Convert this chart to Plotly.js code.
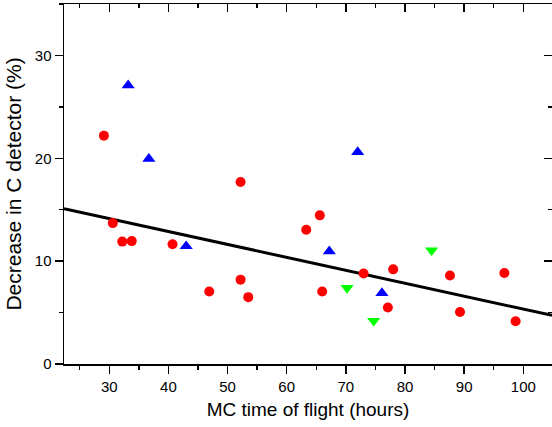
<!DOCTYPE html>
<html>
<head>
<meta charset="utf-8">
<script src="https://cdn.plot.ly/plotly-3.0.1.min.js"></script>
<style>html,body{margin:0;padding:0;background:#fff;}#chart{width:552px;height:427px;}</style>
</head>
<body>
<div id="chart"></div>
<script>
// Red circles
var redX = [29.1, 30.6, 32.2, 33.8, 40.7, 46.9, 52.2, 52.2, 53.5, 63.3, 65.6, 66.0, 73.0, 77.1, 78.0, 87.6, 89.3, 96.8, 98.7];
var redY = [22.2, 13.7, 11.9, 11.95, 11.65, 7.05, 17.7, 8.2, 6.5, 13.05, 14.45, 7.05, 8.8, 5.5, 9.2, 8.6, 5.05, 8.85, 4.15];
// Blue up-triangles
var blueX = [33.2, 36.7, 43.0, 67.2, 72.0, 76.1];
var blueY = [27.1, 19.95, 11.45, 10.95, 20.6, 6.9];
// Green down-triangles
var greenX = [70.2, 74.7, 84.5];
var greenY = [7.4, 4.2, 11.05];
// Linear fit line
var fitX = [22.35, 104.85];
var fitY = [15.1, 4.73];

var xRange = [22.35, 104.85];
var yRange = [0, 35];
var fontFam = 'Liberation Sans, Arial, sans-serif';

var traces = [
  {x: fitX, y: fitY, mode: 'lines', line: {color: '#000', width: 3}, hoverinfo: 'skip'},
  {x: redX, y: redY, mode: 'markers', marker: {symbol: 'circle', size: 10, color: '#ff0000'}},
  {x: blueX, y: blueY, mode: 'markers', marker: {symbol: 'triangle-up', size: 11.5, color: '#0000ff'}},
  {x: greenX, y: greenY, mode: 'markers', marker: {symbol: 'triangle-down', size: 11.5, color: '#00ff00'}},
  {x: [], y: [], xaxis: 'x2', yaxis: 'y2', mode: 'markers', showlegend: false}
];

var axCommon = {
  showgrid: false, zeroline: false, showline: true, linecolor: '#000', linewidth: 1.5,
  tickcolor: '#000', tickwidth: 1.5, ticklen: 8,
  tickfont: {family: fontFam, size: 15, color: '#000'}
};

var layout = {
  width: 552, height: 427,
  margin: {l: 64, r: 0, t: 4, b: 63, pad: 0},
  paper_bgcolor: '#fff', plot_bgcolor: '#fff',
  showlegend: false,
  font: {family: fontFam, color: '#000'},
  xaxis: Object.assign({}, axCommon, {
    range: xRange, dtick: 10, tick0: 0, ticks: 'outside',
    minor: {dtick: 5, tick0: 0, ticks: 'outside', ticklen: 4, tickwidth: 1.5, tickcolor: '#000'},
    title: {text: 'MC time of flight (hours)', font: {family: fontFam, size: 19, color: '#000'}, standoff: 9}
  }),
  yaxis: Object.assign({}, axCommon, {
    range: yRange, dtick: 10, tick0: 0, ticks: 'outside',
    minor: {dtick: 5, tick0: 0, ticks: 'outside', ticklen: 4, tickwidth: 1.5, tickcolor: '#000'},
    title: {text: 'Decrease in C detector (%)', font: {family: fontFam, size: 21, color: '#000'}, standoff: 7}
  }),
  xaxis2: Object.assign({}, axCommon, {
    overlaying: 'x', side: 'top', range: xRange, dtick: 10, tick0: 0, ticks: 'inside', showticklabels: false,
    minor: {dtick: 5, tick0: 0, ticks: 'inside', ticklen: 4, tickwidth: 1.5, tickcolor: '#000'}
  }),
  yaxis2: Object.assign({}, axCommon, {
    overlaying: 'y', side: 'right', range: yRange, dtick: 10, tick0: 0, ticks: 'inside', showticklabels: false,
    minor: {dtick: 5, tick0: 0, ticks: 'inside', ticklen: 4, tickwidth: 1.5, tickcolor: '#000'}
  })
};

Plotly.newPlot('chart', traces, layout, {staticPlot: true, displayModeBar: false});
</script>
</body>
</html>
